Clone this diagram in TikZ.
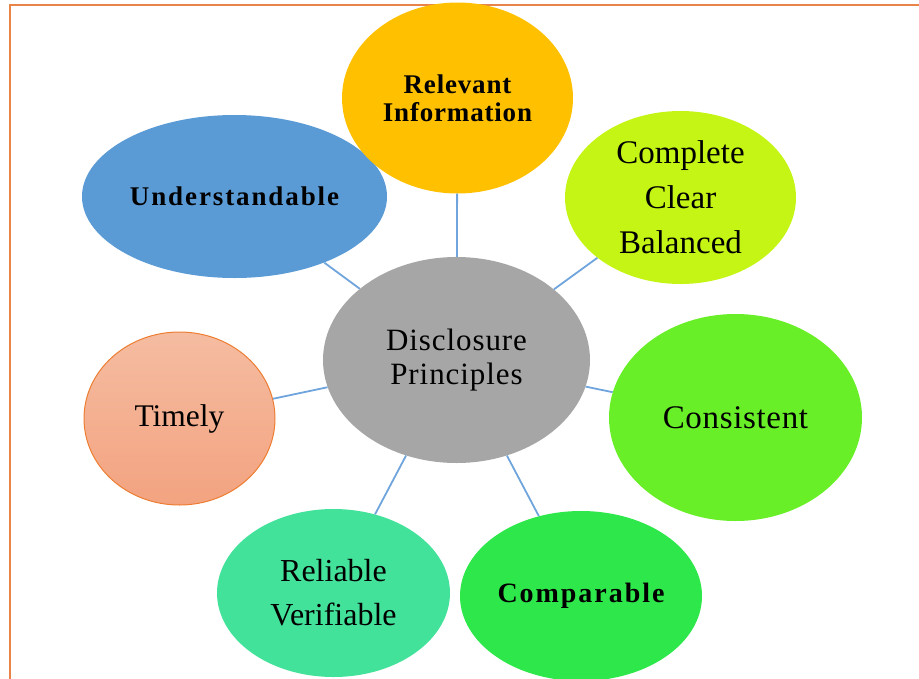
\documentclass[tikz,border=0pt]{standalone}
\usepackage{fontspec}
\setmainfont{Liberation Serif}
\usetikzlibrary{shapes.geometric}

\definecolor{framecol}{HTML}{E8844A}
\definecolor{linkcol}{HTML}{6FA5DC}
\definecolor{relcol}{HTML}{FFC000}
\definecolor{undcol}{HTML}{5B9BD5}
\definecolor{compcol}{HTML}{C5F515}
\definecolor{discol}{HTML}{A6A6A6}
\definecolor{conscol}{HTML}{69EF28}
\definecolor{comparcol}{HTML}{2EE84B}
\definecolor{relicol}{HTML}{43E29B}
\definecolor{timtop}{HTML}{F5BCA1}
\definecolor{timbot}{HTML}{F3A380}
\definecolor{timline}{HTML}{ED7D31}

\begin{document}
\begin{tikzpicture}[x=1pt,y=-1pt,
    bubble/.style={ellipse,inner sep=0pt,align=center,text=black},
    link/.style={draw=linkcol,line width=1.8pt}]
  \useasboundingbox (0,0) rectangle (919,678);
  \draw[framecol,line width=2pt] (9.5,700) -- (9.5,4.5) -- (930,4.5);

  % outer bubbles
  \node[bubble,fill=undcol,minimum width=305pt,minimum height=163pt,
    font=\fontsize{27}{28}\selectfont\bfseries\addfontfeature{LetterSpace=7}] (under) at (234.5,196.5)
    {Understandable};
  \node[bubble,fill=relcol,minimum width=231pt,minimum height=191pt,
    font=\fontsize{27}{28}\selectfont\bfseries\addfontfeature{LetterSpace=3}] (relev) at (457.5,98)
    {Relevant\\Information};
  \node[bubble,fill=compcol,minimum width=231pt,minimum height=173pt,
    font=\fontsize{33}{45}\selectfont] (compl) at (680.5,197.5)
    {Complete\\Clear\\Balanced};
  \node[bubble,fill=conscol,minimum width=253pt,minimum height=207pt,
    font=\fontsize{33}{45}\selectfont\addfontfeature{LetterSpace=2}] (consis) at (735.5,417.5)
    {Consistent};
  \node[bubble,fill=comparcol,minimum width=242pt,minimum height=170pt,
    font=\fontsize{28}{30}\selectfont\bfseries\addfontfeature{LetterSpace=7}] (compa) at (581,596)
    {Comparable};
  \node[bubble,fill=relicol,minimum width=233pt,minimum height=168pt,
    font=\fontsize{32}{44}\selectfont] (reli) at (333.5,593)
    {Reliable\\Verifiable};
  \node[bubble,top color=timtop,bottom color=timbot,draw=timline,line width=1pt,
    minimum width=191pt,minimum height=173pt,font=\fontsize{31.5}{33}\selectfont] (timely) at (179.5,418.5)
    {Timely};

  % centre
  \node[bubble,fill=discol,minimum width=267pt,minimum height=206pt,
    font=\fontsize{31}{34}\selectfont\addfontfeature{LetterSpace=3}] (disc) at (456.5,360)
    {Disclosure\\Principles};

  \foreach \n in {under,relev,compl,consis,compa,reli,timely}
    \draw[link] (disc) -- (\n);
\end{tikzpicture}
\end{document}
